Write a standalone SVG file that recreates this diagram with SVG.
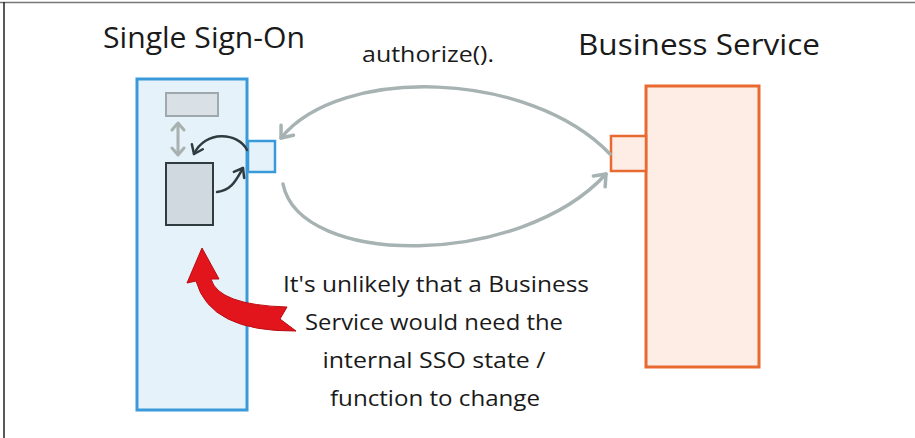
<svg xmlns="http://www.w3.org/2000/svg" width="915" height="438" viewBox="0 0 915 438">
<defs>
<style>
.title{font-family:"Open Sans","Liberation Sans",sans-serif;font-size:30px;fill:#1a1a1a}
.lbl{font-family:"Open Sans","Liberation Sans",sans-serif;font-size:21px;fill:#1a1a1a;text-anchor:middle}
.gray{fill:none;stroke:#a7b2b2;stroke-width:3.5;stroke-linecap:round}
.dark{fill:none;stroke:#2f3b3f;stroke-width:2.5;stroke-linecap:round}
</style>
<marker id="ag" markerWidth="10" markerHeight="10" refX="8" refY="5" orient="auto" markerUnits="userSpaceOnUse" viewBox="0 0 10 10" overflow="visible">
<path d="M-2,-3 L8,5 L-2,13" fill="none" stroke="#a7b2b2" stroke-width="3.5" stroke-linecap="round" stroke-linejoin="round"/>
</marker>
<marker id="ad" markerWidth="10" markerHeight="10" refX="8" refY="5" orient="auto" markerUnits="userSpaceOnUse" viewBox="0 0 10 10" overflow="visible">
<path d="M0,-1 L8,5 L0,11" fill="none" stroke="#2f3b3f" stroke-width="2.5" stroke-linecap="round" stroke-linejoin="round"/>
</marker>
<marker id="ag2" markerWidth="10" markerHeight="10" refX="5" refY="5" orient="auto-start-reverse" markerUnits="userSpaceOnUse" viewBox="0 0 10 10" overflow="visible">
<path d="M-1,-1 L6,5 L-1,11" fill="none" stroke="#a9b0b0" stroke-width="3" stroke-linecap="round" stroke-linejoin="round"/>
</marker>
</defs>
<rect width="915" height="438" fill="#ffffff"/>
<line x1="0" y1="2.5" x2="915" y2="2.5" stroke="#777" stroke-width="1.5"/>
<line x1="4" y1="2" x2="4" y2="438" stroke="#222" stroke-width="1.5"/>

<g id="sso">
<text class="title" x="103" y="48" textLength="202" lengthAdjust="spacingAndGlyphs">Single Sign-On</text>
<rect x="137" y="79" width="110" height="331" fill="#e5f2fa" stroke="#3a9ad9" stroke-width="3"/>
<rect x="166" y="93" width="52" height="23" fill="#d9e1e6" stroke="#9fa8ad" stroke-width="2"/>
<rect x="166" y="163" width="47" height="62" fill="#cfd9df" stroke="#2f3b3f" stroke-width="2"/>
<rect x="248" y="141" width="27" height="31" fill="#e5f2fa" stroke="#3a9ad9" stroke-width="2.5"/>
</g>

<g id="business-service">
<text class="title" x="578" y="55" textLength="242" lengthAdjust="spacingAndGlyphs">Business Service</text>
<rect x="646" y="86" width="113" height="281" fill="#fdede5" stroke="#e86a30" stroke-width="3"/>
<rect x="611" y="136" width="35" height="35" fill="#fdede5" stroke="#e86a30" stroke-width="2.5"/>
</g>

<g id="connectors">
<path class="gray" d="M610 154 C530 70 340 65 281 138" marker-end="url(#ag)"/>
<path class="gray" d="M283 184 C300 268 520 268 606 174" marker-end="url(#ag)"/>
<path d="M178 124 L178 154" fill="none" stroke="#a9b0b0" stroke-width="3" marker-start="url(#ag2)" marker-end="url(#ag2)"/>
<path class="dark" d="M247 150 C238 132 205 130 194 154" marker-end="url(#ad)"/>
<path class="dark" d="M217 192 C232 190 236 180 243 168" marker-end="url(#ad)"/>
<path d="M202 248 L219 279 L211 279 Q218 305 287 307 L280 319 L296 331 Q210 332 196 281 L187 283 Z" fill="#e2151c" stroke="#b80d12" stroke-width="1" stroke-linejoin="round"/>
</g>

<g id="labels">
<text class="lbl" x="428" y="62" font-size="20" textLength="132" lengthAdjust="spacingAndGlyphs">authorize().</text>
<text class="lbl" x="436" y="292" textLength="306" lengthAdjust="spacingAndGlyphs">It's unlikely that a Business</text>
<text class="lbl" x="434" y="330" textLength="258" lengthAdjust="spacingAndGlyphs">Service would need the</text>
<text class="lbl" x="434" y="368" textLength="223" lengthAdjust="spacingAndGlyphs">internal SSO state /</text>
<text class="lbl" x="435" y="406" textLength="210" lengthAdjust="spacingAndGlyphs">function to change</text>
</g>
</svg>
